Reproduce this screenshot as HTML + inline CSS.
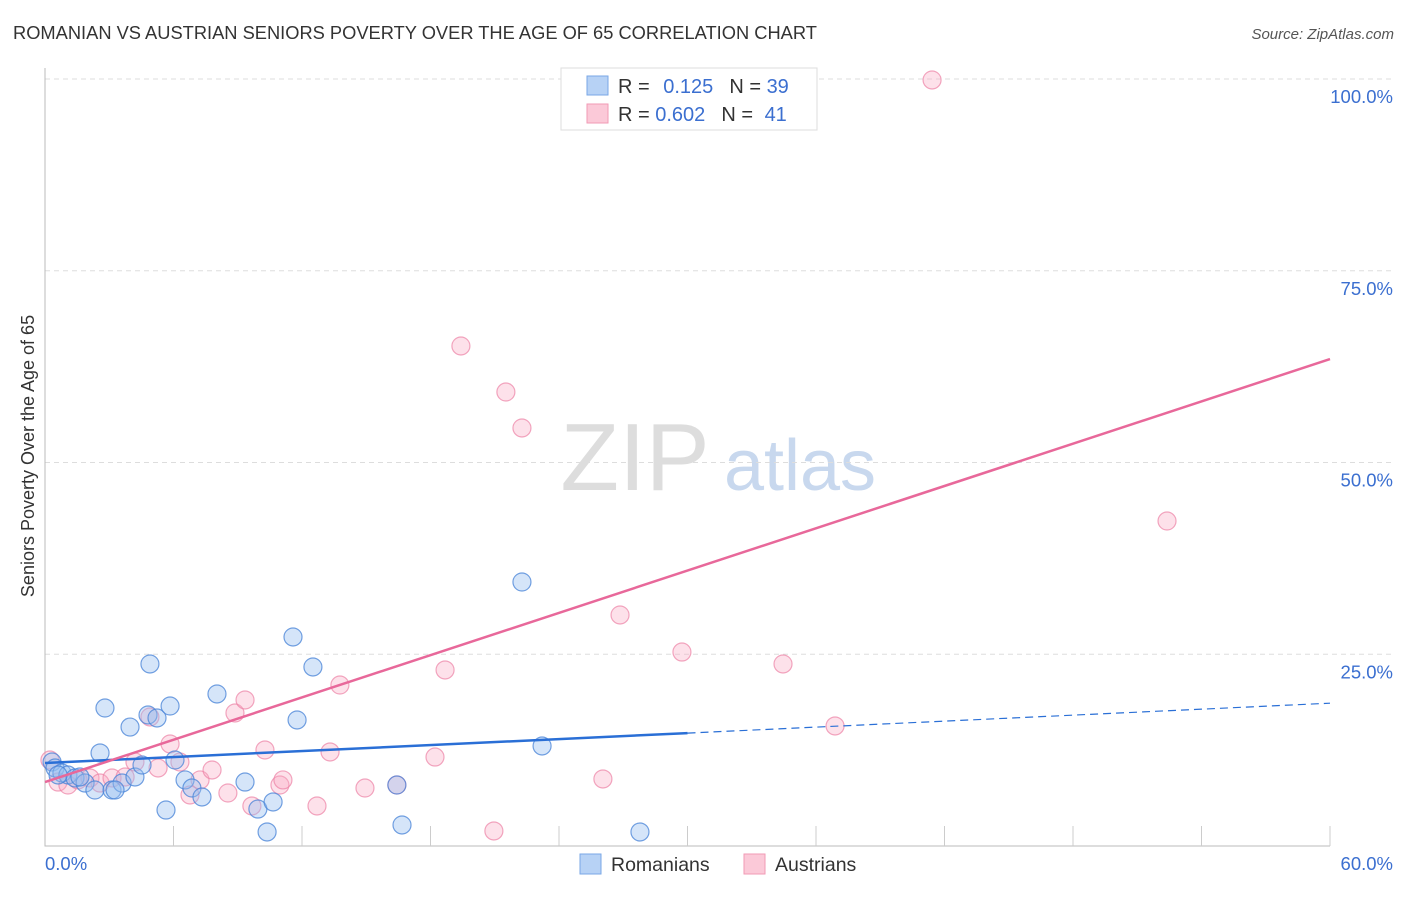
<!DOCTYPE html>
<html><head><meta charset="utf-8"><style>
body{margin:0;background:#fff;font-family:"Liberation Sans",sans-serif}
svg text{font-family:"Liberation Sans",sans-serif}
</style></head><body>
<svg id="c" width="1406" height="892" xmlns="http://www.w3.org/2000/svg">
<text x="13" y="39" font-size="18.3" fill="#333">ROMANIAN VS AUSTRIAN SENIORS POVERTY OVER THE AGE OF 65 CORRELATION CHART</text>
<text x="1394" y="39" font-size="15" fill="#555" text-anchor="end" font-style="italic">Source: ZipAtlas.com</text>
<text transform="translate(34,456) rotate(-90)" font-size="18" fill="#333" text-anchor="middle">Seniors Poverty Over the Age of 65</text>
<g><text x="635" y="490" font-size="96" fill="#ddd" font-family="Liberation Serif" text-anchor="middle">ZIP</text><text x="800" y="490" font-size="72" fill="#c8d8ee" text-anchor="middle">atlas</text></g>
<g id="grid"></g><g id="marks"></g>
<g>
<rect x="561" y="68" width="256" height="62" fill="#fff" stroke="#ddd"/>
<rect x="587" y="76" width="21" height="19" fill="#b7d2f5" stroke="#7aa7e6"/>
<rect x="587" y="104" width="21" height="19" fill="#fbc9d8" stroke="#f19ab5"/>
<text x="618" y="93" font-size="20" fill="#333">R = <tspan fill="#3b6fd0" dx="8">0.125</tspan><tspan fill="#333" dx="16">N = </tspan><tspan fill="#3b6fd0">39</tspan></text>
<text x="618" y="121" font-size="20" fill="#333">R = <tspan fill="#3b6fd0">0.602</tspan><tspan fill="#333" dx="16">N = </tspan><tspan fill="#3b6fd0" dx="6">41</tspan></text>
</g>
<g>
<rect x="580" y="854" width="21" height="20" fill="#b7d2f5" stroke="#7aa7e6"/><text x="611" y="871" font-size="19.5" fill="#333">Romanians</text>
<rect x="744" y="854" width="21" height="20" fill="#fbc9d8" stroke="#f19ab5"/><text x="775" y="871" font-size="19.5" fill="#333">Austrians</text>
</g>
</svg>
<script>
const blueX=[0.33,0.47,0.79,1.07,1.40,1.87,2.33,2.57,2.80,3.13,3.60,3.97,4.20,4.53,4.90,4.81,5.23,5.84,5.65,6.07,6.54,6.86,7.33,8.03,9.34,9.94,10.37,10.65,11.58,11.77,12.51,16.43,16.67,22.27,23.21,27.78,0.61,1.63,3.27];
const blueY=[10.95,10.17,9.52,9.26,8.87,8.21,7.30,12.13,17.99,7.30,8.21,15.51,9.00,10.56,23.73,17.08,16.69,18.25,4.69,11.21,8.61,7.56,6.39,19.82,8.34,4.82,1.83,5.74,27.25,16.43,23.34,7.95,2.74,34.42,13.04,1.83,9.26,9.00,7.30];
const pinkX=[0.23,0.61,1.07,1.54,2.10,2.57,3.13,3.74,4.20,4.90,5.28,5.84,6.30,6.77,7.24,7.80,8.54,8.87,9.34,9.66,10.27,10.97,11.11,12.70,13.31,13.77,14.94,16.43,18.21,18.68,19.42,20.96,21.52,22.27,26.05,26.85,29.74,34.46,36.89,41.42,52.39];
const pinkY=[11.21,8.34,7.95,8.61,8.87,8.21,8.87,9.00,10.95,16.82,10.17,13.30,10.95,6.65,8.61,9.91,6.91,17.34,19.04,5.22,12.52,7.95,8.61,5.22,12.26,20.99,7.56,7.95,11.60,22.95,65.19,1.96,59.19,54.50,8.74,30.12,25.29,23.73,15.65,99.87,42.37];
const blueTrend=[10.82,0.130];
const pinkTrend=[8.34,0.919];
const yTicks=[25,50,75,100];
const xTickLabels=["0.0%","60.0%"];
const NS="http://www.w3.org/2000/svg";
const X=v=>45+v/60*1285, Y=v=>846-v/100*767;
function mk(t,a,p){const e=document.createElementNS(NS,t);for(const k in a)e.setAttribute(k,a[k]);p.appendChild(e);return e;}
const g=document.getElementById('grid'),m=document.getElementById('marks');
yTicks.forEach(t=>{
 const l=mk('line',{x1:45,x2:1394,y1:Y(t),y2:Y(t),stroke:'#ddd','stroke-dasharray':'5,4'},g);
 
 
 const tx=mk('text',{x:1393,y:Y(t)+24,'font-size':18.5,fill:'#3b6fd0','text-anchor':'end'},g);tx.textContent=t.toFixed(1)+'%';
 
 
});
const ax=mk('path',{d:'M45,68V846H1330',stroke:'#bbb',fill:'none'},g);


for(let i=1;i<=10;i++){const t=mk('line',{x1:X(i*6),x2:X(i*6),y1:826,y2:846,stroke:'#ccc'},g);
 
 }
xTickLabels.forEach((s,i)=>{const t=mk('text',{x:i?1393:45,y:870,'font-size':18.5,fill:'#3b6fd0','text-anchor':i?'end':'start'},g);t.textContent=s;
 
 });
function dots(xs,ys,fill,stroke,name){xs.forEach((x,i)=>{const c=mk('circle',{cx:X(x),cy:Y(ys[i]),r:9,fill:fill,stroke:stroke,'stroke-width':1.2},m);
 
 });}
dots(pinkX,pinkY,'rgba(248,170,195,0.35)','rgba(236,130,165,0.7)','austrian-point');
dots(blueX,blueY,'rgba(150,190,240,0.4)','rgba(70,130,215,0.75)','romanian-point');
const b1=mk('line',{x1:X(0),y1:Y(blueTrend[0]),x2:X(30),y2:Y(blueTrend[0]+blueTrend[1]*30),stroke:'#2a6fd6','stroke-width':2.5},m);


const b2=mk('line',{x1:X(30),y1:Y(blueTrend[0]+blueTrend[1]*30),x2:X(60),y2:Y(blueTrend[0]+blueTrend[1]*60),stroke:'#2a6fd6','stroke-width':1.2,'stroke-dasharray':'8,5'},m);


const p1=mk('line',{x1:X(0),y1:Y(pinkTrend[0]),x2:X(60),y2:Y(pinkTrend[0]+pinkTrend[1]*60),stroke:'#e8689a','stroke-width':2.5},m);


</script>
</body></html>
